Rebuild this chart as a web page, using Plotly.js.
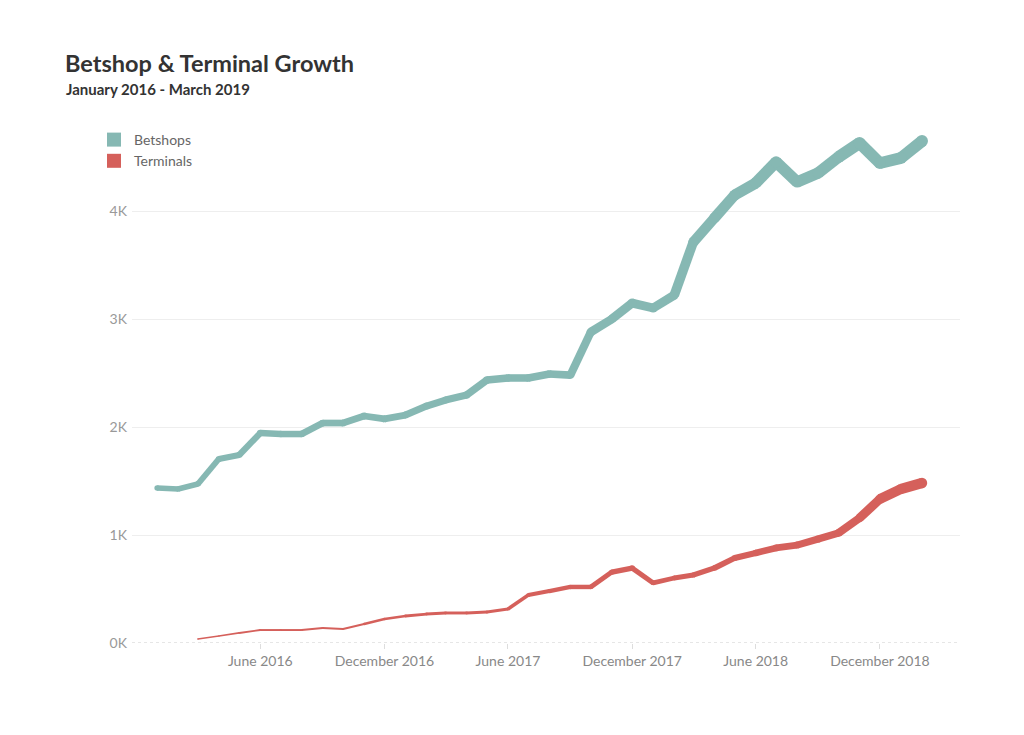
<!DOCTYPE html>
<html>
<head>
<meta charset="utf-8">
<script src="https://cdn.plot.ly/plotly-3.0.1.min.js"></script>
<style>
  html, body { margin: 0; padding: 0; background: #fff; }
  #chart { width: 1024px; height: 735px; }
</style>
</head>
<body>
<div id="chart"></div>
<script>
// ---- data ----
const months = [
  "2016-01-01","2016-02-01","2016-03-01","2016-04-01","2016-05-01","2016-06-01",
  "2016-07-01","2016-08-01","2016-09-01","2016-10-01","2016-11-01","2016-12-01",
  "2017-01-01","2017-02-01","2017-03-01","2017-04-01","2017-05-01","2017-06-01",
  "2017-07-01","2017-08-01","2017-09-01","2017-10-01","2017-11-01","2017-12-01",
  "2018-01-01","2018-02-01","2018-03-01","2018-04-01","2018-05-01","2018-06-01",
  "2018-07-01","2018-08-01","2018-09-01","2018-10-01","2018-11-01","2018-12-01",
  "2019-01-01","2019-02-01"
];
const betshops = [1435,1426,1472,1704,1741,1944,1935,1935,2037,2037,2102,2075,
  2111,2194,2250,2296,2435,2454,2454,2491,2481,2880,3000,3148,
  3102,3222,3713,3935,4148,4259,4454,4269,4352,4500,4630,4444,4491,4648];
const terminals = [null,null,37,65,93,120,120,120,139,130,176,222,
  250,268,278,278,287,315,444,481,519,519,657,694,
  556,602,630,694,787,833,880,907,963,1019,1157,1333,1426,1481];
const tickDates = ["2016-06-01","2016-12-01","2017-06-01","2017-12-01","2018-06-01","2018-12-01"];
const tickLabels = ["June 2016","December 2016","June 2017","December 2017","June 2018","December 2018"];
const yTicks = [0,1000,2000,3000,4000];
const yLabels = ["0K","1K","2K","3K","4K"];

const seriesDefs = [
  {name: "Betshops", values: betshops, color: "#86b8b3", w0: 2.6, wk: 0.00202},
  {name: "Terminals", values: terminals, color: "#d5605b", w0: 1.2, wk: 0.00625}
];

const font = "Lato, 'Open Sans', sans-serif";
const traces = [];

seriesDefs.forEach(s => {
  const widthOf = v => s.w0 + s.wk * v;
  // variable-width line: one trace per segment
  for (let i = 0; i < months.length - 1; i++) {
    const a = s.values[i], b = s.values[i + 1];
    if (a == null || b == null) continue;
    traces.push({
      x: [months[i], months[i + 1]], y: [a, b],
      type: "scatter", mode: "lines",
      line: {color: s.color, width: (widthOf(a) + widthOf(b)) / 2},
      hoverinfo: "skip", showlegend: false
    });
  }
  // round joins
  const xs = [], ys = [], sz = [];
  s.values.forEach((v, i) => { if (v != null) { xs.push(months[i]); ys.push(v); sz.push(widthOf(v)); } });
  traces.push({
    x: xs, y: ys, type: "scatter", mode: "markers",
    marker: {color: s.color, size: sz, opacity: 1, line: {width: 0}},
    name: s.name, showlegend: false,
    hovertemplate: "%{x|%B %Y}<br>" + s.name + ": %{y:,}<extra></extra>"
  });
});

// legend entries (square swatches)
seriesDefs.forEach(s => {
  traces.push({
    x: [null], y: [null], type: "scatter", mode: "markers",
    marker: {symbol: "square", color: s.color, size: 14, opacity: 1},
    name: s.name, showlegend: true, hoverinfo: "skip"
  });
});

const layout = {
  width: 1024, height: 735,
  paper_bgcolor: "#ffffff", plot_bgcolor: "#ffffff",
  margin: {l: 132, r: 64, t: 120, b: 92},
  font: {family: font, color: "#888"},
  title: {
    text: "<b>Betshop &amp; Terminal Growth</b>",
    font: {family: font, size: 23.5, color: "#333"},
    x: 65 / 1024, xref: "container", xanchor: "left",
    y: 1 - 64 / 735, yref: "container", yanchor: "middle"
  },
  annotations: [{
    text: "<b>January 2016 - March 2019</b>",
    xref: "paper", yref: "paper",
    x: (64 - 132) / 828, xanchor: "left",
    y: 1 + (120 - 89) / 523, yanchor: "middle",
    showarrow: false, font: {family: font, size: 15, color: "#333"}
  }],
  showlegend: true,
  legend: {
    x: (94 - 132) / 828, xanchor: "left",
    y: 1 + (120 - 124) / 523, yanchor: "top",
    font: {family: font, size: 14, color: "#666"},
    itemwidth: 30, tracegroupgap: 0, bgcolor: "rgba(0,0,0,0)"
  },
  xaxis: {
    type: "date",
    range: ["2015-11-25", "2019-03-29"],
    tickvals: tickDates, ticktext: tickLabels,
    showgrid: false, zeroline: false, showline: false,
    ticks: "outside", ticklen: 5, tickcolor: "#ddd", tickwidth: 1,
    tickfont: {family: font, size: 14, color: "#888"}
  },
  yaxis: {
    range: [0, 4843],
    tickvals: yTicks, ticktext: yLabels,
    showgrid: true, gridcolor: "#eeeeee", gridwidth: 1,
    zeroline: false, showline: false, ticks: "",
    ticklabelstandoff: 4,
    tickfont: {family: font, size: 14, color: "#999"}
  },
  shapes: [{
    type: "line", xref: "paper", yref: "y",
    x0: 0, x1: 1, y0: 0, y1: 0,
    line: {color: "#cccccc", width: 1, dash: "dot"}, layer: "below"
  }]
};

Plotly.newPlot("chart", traces, layout, {displayModeBar: false, responsive: false});
</script>
</body>
</html>
